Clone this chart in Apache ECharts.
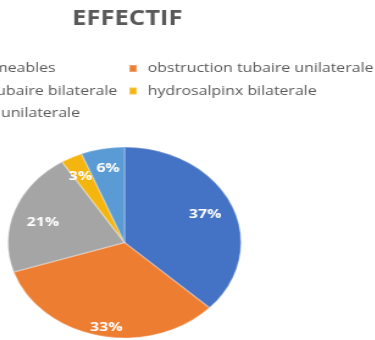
<!DOCTYPE html>
<html>
<head>
<meta charset="utf-8">
<script src="https://cdn.jsdelivr.net/npm/echarts@6/dist/echarts.min.js"></script>
<style>
  html, body { margin: 0; padding: 0; width: 375px; height: 340px; overflow: hidden; background: #fff; }
  #wrap { position: absolute; left: 0; top: 0; width: 375px; height: 340px; overflow: hidden; }
  /* chart is drawn narrower and stretched horizontally, giving the oval pie */
  #chart { position: absolute; left: -150px; top: 0; width: 430px; height: 340px;
           transform: scaleX(1.22); transform-origin: 0 0; }
</style>
</head>
<body>
<div id="wrap"><div id="chart"></div></div>
<script>
const categories = [
  'trompes permeables',
  'obstruction tubaire unilaterale',
  'obstruction tubaire bilaterale',
  'hydrosalpinx bilaterale',
  'hydrosalpinx unilaterale'
];
const values = [37, 33, 21, 3, 6];
const colors = ['#4472C4', '#ED7D31', '#A5A5A5', '#F5B50F', '#5B9BD5'];

// small per-slice nudges of the percentage labels, in px
const labelNudge = [[-5, 3], [2, 9], [6, 6], [-1, 3], [1, 2]];

const font = '"Open Sans", sans-serif';
const R = 95.5;
const center = [225, 242.5];

const pieData = categories.map((name, i) => ({ name: name, value: values[i] }));
const labelData = categories.map((name, i) => ({
  name: name,
  value: values[i],
  label: { offset: labelNudge[i] }
}));

const legendText = { fontFamily: font, fontSize: 13, color: '#595959', lineHeight: 15, padding: [0, 0, 0, 4] };

const chart = echarts.init(document.getElementById('chart'), null, { renderer: 'canvas' });
chart.setOption({
  animation: false,
  color: colors,
  title: {
    text: 'EFFECTIF',
    left: 182, top: 9, padding: 0,
    textStyle: { fontFamily: font, fontWeight: 'bold', fontSize: 21, color: '#595959' }
  },
  legend: [
    {
      data: [categories[0], categories[2], categories[4]],
      orient: 'vertical', left: 26, top: 61, padding: 0,
      icon: 'rect', itemWidth: 6, itemHeight: 7, itemGap: 7.5,
      textStyle: legendText
    },
    {
      data: [categories[1], categories[3]],
      orient: 'vertical', left: 228, top: 61, padding: 0,
      icon: 'rect', itemWidth: 6, itemHeight: 7, itemGap: 7.5,
      textStyle: legendText
    }
  ],
  series: [
    {
      type: 'pie',
      center: center,
      radius: [0, R],
      startAngle: 90,
      clockwise: true,
      label: { show: false },
      labelLine: { show: false },
      itemStyle: { borderColor: 'rgba(255,255,255,0.25)', borderWidth: 1.5 },
      data: pieData
    },
    {
      // transparent copy, only used to place the percentage labels further out
      type: 'pie',
      center: center,
      radius: [0, R * 1.56],
      startAngle: 90,
      clockwise: true,
      silent: true,
      itemStyle: { color: 'transparent' },
      label: {
        show: true, position: 'inside',
        formatter: '{d}%',
        fontFamily: font, fontWeight: 'bold', fontSize: 13, color: '#fff'
      },
      labelLine: { show: false },
      data: labelData
    }
  ]
});
</script>
</body>
</html>
